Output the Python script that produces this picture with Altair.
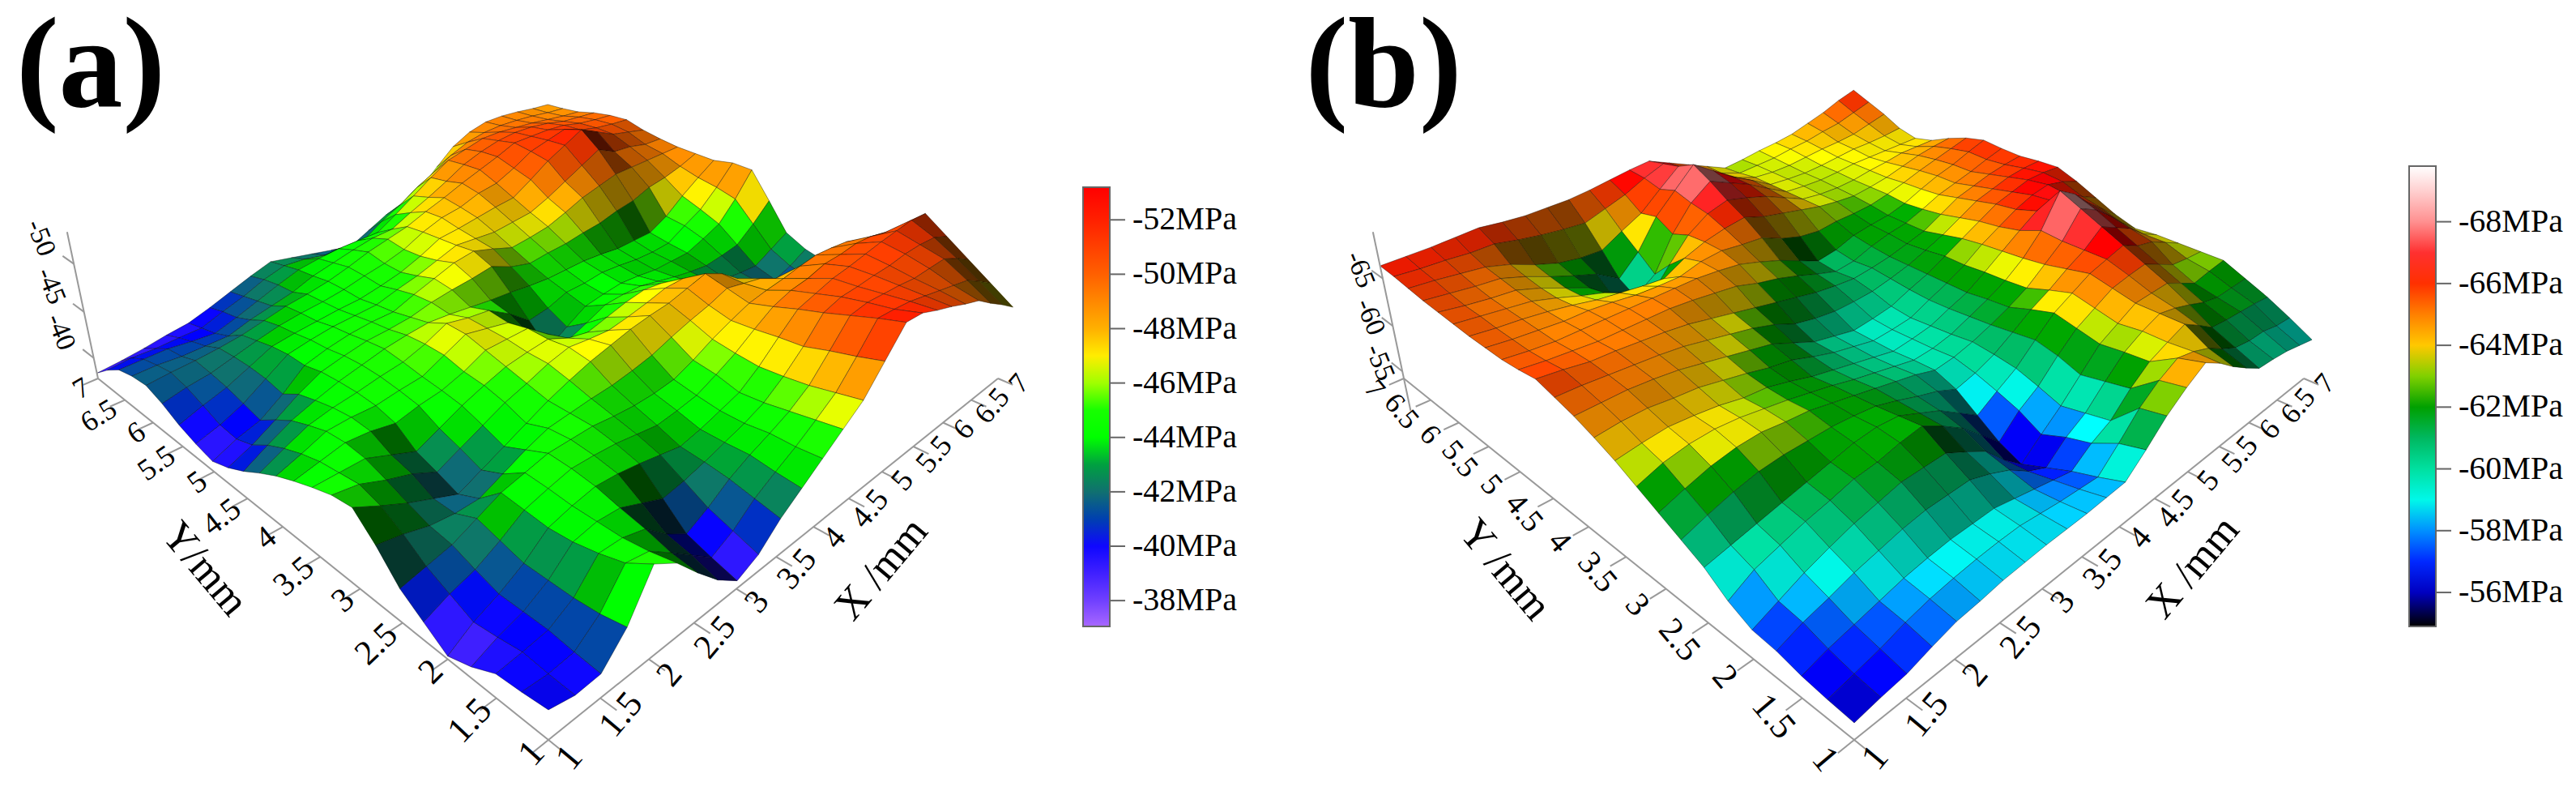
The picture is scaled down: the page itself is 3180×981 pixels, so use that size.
import altair as alt

# Stress magnitude (MPa): rows Y = 1..7, columns X = 1..7, step 0.25
Z_A = [
[40.5,39.9,40,42.5,46.5,45,42.5,40.2,38.5,39.5,41.5,43,44.5,46,47.5,50,52.5,52.3,51.5,50.8,50,49.3,48,46.8,45.5],
[40.2,40,40.2,42,45,44.5,42.8,41,39.2,40.3,42,43.2,44.3,45.6,47,49.3,51.8,51.6,51.3,50.8,50.3,49.8,49.3,48.2,47],
[40,40.2,40.5,41.8,44.3,44.2,43.5,41.5,40,41.1,42.5,43.5,44.3,45.2,46.5,48.7,51,51.2,51,50.8,50.5,50.5,50.5,49.6,48.5],
[38.8,39.8,40.5,41.8,43.8,44.2,44,43,42,42.3,42.8,43.4,44,44.8,46.2,48,50.2,50.7,50.7,50.8,50.8,51,51,50.8,50],
[38,39.5,40.5,41.8,43.6,44.2,44.6,44.4,44,43.5,43,43.4,44,44.6,46,47.8,49.5,50,50.5,50.7,51,51.3,51.5,51.7,51.5],
[39.5,40.5,41.2,42.4,43.8,44.4,44.9,44.8,44.6,44.2,43.8,44,44.3,45.2,46.2,47.5,48.7,49.3,49.5,50,50,50.2,50,49.5,49],
[41,41.5,42,43,44,44.5,45,45,45,44.7,44.5,44.5,44.7,45.5,46.5,47.3,48,48.3,48.5,48.8,49,48.8,48.5,47.8,47],
[43.5,43,42.3,42,42,43,44,44.8,45,45.2,45.3,45.6,46,46.7,47.3,47.8,48.5,48,47.5,46.5,46,45.5,44.8,44.5,44.5],
[45.5,44.2,43,42,41,42,43,44,45,45.8,46.5,47,47.5,47.8,48,48.5,49,48,46.5,44.8,43,42,41,41.5,42.5],
[45.2,44.8,43.8,43,41.8,42.8,43.8,44.8,45.5,46.3,46.8,46.5,46.3,46.6,47,47.5,47.5,46.5,45.2,44,42.8,42,41.4,42,43],
[44.5,44.5,44.5,43.5,42.5,43.5,44.5,45.3,46,46.3,46.5,45.5,45,45.5,46,46.3,46,45,44,43.2,42.5,42.2,42,43,44],
[43.7,44.2,44.7,44.5,44,44.5,44.8,45.5,46.5,46.5,46.5,44.8,43,43.8,44.7,44.8,44.7,44.2,43.7,43.3,43,43.2,43.5,45,46.8],
[42.8,43.6,44.5,44.6,44.5,44.8,45,46,47,46.5,46,43.8,41,42.3,43.5,43.8,44,43.8,43.5,43.5,43.5,44.2,45,47,49.5],
[41.7,42.8,43.8,44.3,44.6,45,45.3,46,47,46.5,46.2,44.8,43,43.3,44,44,44.2,44,43.7,43.6,43.7,44.8,45.8,47.5,49.5],
[40.5,41.8,43,43.8,44.5,45,45.5,45.8,46,45.8,45.5,45.2,45,44.7,44.5,44.5,44.5,44.3,44,44,44,45,46.5,47.8,49],
[39.5,40.5,41.8,43.2,44.3,44.8,45.2,45.3,45.5,46,46.3,46.5,46.8,45.8,45.2,45.4,45.5,45.8,46,46.5,46.8,47.5,47.8,48.3,49],
[38.8,39.8,40.5,42,43.8,44.4,44.8,45,45,45.8,46.5,47.2,47.5,46.8,46,46.2,46.5,47.2,48,48.5,49,49,49,49,49],
[39.3,40,41,42.4,43.8,44.2,44.5,44.6,44.7,45.3,45.8,46.5,47.2,47,46.8,47,47.2,48,49,50,51,50,49.8,49.3,49.2],
[40,40.8,41.5,42.5,43.5,43.8,44,44.2,44.3,44.7,45.2,46,47,47.2,47.5,47.8,48,49.2,50.5,51.5,52.5,51.5,50.5,50,49.5],
[41,41.5,41.8,42.4,43,43.5,43.8,44,44.3,44.8,45.2,45.8,46.8,47.5,47.8,48.5,48.8,49.7,50.8,51.3,51.8,51,50.5,50.2,50],
[41.7,41.9,42,42.2,42.5,43,43.5,43.8,44.2,44.8,45.5,46,46.5,47.3,48,48.8,49.5,50.2,51,51,51,50.8,50.3,50,49.8],
[41.5,41.5,41.3,41.3,41.3,42,42.5,43,43.8,44.3,44.8,45.2,45.3,46.3,47.2,48.2,49.3,50,50.5,50.7,50.6,50.3,49.8,49.6,49.4],
[41,41,41,40.7,40.5,41.2,42,42.8,43.5,43.8,44,44,44,45.2,46.5,47.8,49,49.5,50,50,49.8,49.6,49.3,49,48.8],
[39.8,40,39.9,40,40,40.8,41.5,42.4,43,42.8,42.3,42.2,42.2,43.5,44.5,45.8,46.8,48,48.8,49.2,49.3,49.2,49,48.7,48.5],
[38.3,38.5,38.8,39.2,39.5,40.2,41,41.8,42.5,42,41.5,41,40.5,41.5,42.5,43.2,44,45.8,47.5,48.5,49,49,48.8,48.5,48.3],
]
Z_B = [
[55.8,56.2,56.5,57.2,57.8,58,58.3,58.4,58.5,58.5,58.5,58.6,58.7,60.5,62.5,64,65.2,64,62.5,61.2,60,59.8,59.5,59,58.5],
[56,56.5,57,57.7,58.2,58.5,58.7,58.8,58.8,58.5,58.2,58,57.8,59.8,62,63.5,64.5,64,63.2,62,61,60.6,60.5,60,59.8],
[56.3,57,57.5,58,58.5,58.8,59,59,59,58.5,58,57.5,57,58.5,59.5,61.5,63,63.8,64.5,63.3,62,61.7,61.5,61.3,61],
[56.8,57.7,58.3,59,59.5,60,60.3,60.3,60.3,59.5,58.5,57,56,57.8,59,61,62.8,63.8,64.5,64,63.3,62.5,62,62,62],
[57,58,59,59.8,60.5,61,61.5,61.5,61.5,60.3,59,56.8,55,56.8,58.5,60.5,62.5,63.5,64.5,64.5,64.5,63.5,62.5,62.8,63],
[58,59.3,60,60.7,61.2,61.8,62,62.5,62.8,61.5,60,58,56,58,59.3,61.3,63,64,65,65.3,65.5,64.5,63.5,63.2,63],
[59.5,60,60.5,61,61.5,62,62.5,62.7,62.5,61.5,60.5,59,57.5,58.8,60,61.8,63.5,64.5,65.5,66,66.5,65.5,65,64,63],
[60.5,61.3,62,62.5,62.7,62.7,62.7,62.5,62.2,61.5,60.7,60,59,59.5,60.3,61.5,62.8,63.8,65,66,67.5,66.5,65.5,64,63],
[61.5,62.3,63,63.4,63.5,63.2,63,62.5,62,61.5,61,60.5,59.8,60,60.5,61.2,62,63,64.5,66,68.5,67.5,66,64.3,62.8],
[62.5,63.3,63.7,63.8,63.6,63.2,62.8,62.3,61.8,61.2,60.7,60.2,59.7,59.8,60.2,61,61.8,62.8,64.2,66.2,69.5,68.3,66.5,65,63.5],
[63.5,63.8,64,63.8,63.5,63,62.8,62.2,61.5,61,60.5,60,59.5,59.7,60,60.8,61.5,62.7,64,65.3,66.5,66.7,66.5,65.5,64.5],
[64.3,64.5,64.5,64.2,64,63.5,63,62.4,62,61.2,60.5,60,59.5,59.6,59.8,60.7,61.5,62.5,63.8,64.8,65.8,66.5,66.8,66.3,65.5],
[65,65,65,64.8,64.5,64,63.5,63,62.5,61.5,60.5,60,59.5,59.7,60,60.8,61.5,62.5,63.5,64.5,65.5,66,66.5,66.5,66.3],
[65.5,65.4,65.2,65,64.8,64.5,64,63.5,63,62.3,61.3,60.8,60.5,60.5,60.6,61,61.5,62.2,63,64,65,65.5,66,66.2,66.2],
[66,65.7,65.3,65.2,65,64.8,64.5,64,63.5,63,62.5,62,61.5,61.2,61,61.2,61.5,62,62.5,63.5,64.5,65,65.5,65.8,66],
[65.7,65.4,65.2,65,65,65,65,64.8,64.5,64.2,63.5,63,62.3,61.5,60.8,61,61.7,62.2,62.5,63.2,64,64.5,65,65.6,66.1],
[65.5,65.2,65,65,65,65,65,65,65,64.8,64.5,63.8,63,62,61,61.3,62,62.3,62.5,63,63.8,64.5,65,65.7,66.3],
[65.5,65.2,65,64.8,64.8,64.6,64.3,64.2,64.2,64.8,65,64.7,64.5,63.5,62.8,62.5,62.7,62.7,62.8,63.2,63.7,64.3,64.8,65.3,65.8],
[65.5,65.2,65,64.7,64.3,63.8,63.5,63.2,63,64.2,65,65.5,65.8,65,64.5,64,63.5,63.2,63,63.2,63.5,64,64.5,64.8,65],
[65.6,65.3,65,64.7,64,63.2,62.5,61.5,60,62.5,64.8,66.2,66.8,66.2,65.5,64.5,63.5,63.2,63.1,63.2,63.5,63.7,64,64,64],
[65.7,65.3,65,64.8,64,63,62,60,59,60.5,64,66.5,68,67,66,64.7,63.5,63.3,63.2,63.3,63.5,63.5,63.5,63.5,63.5],
[65.8,65.5,65.2,65,64.2,63.2,62.3,61.5,60,62,65,67,69,67.5,66,64.8,63.5,63.3,63.2,63.3,63.5,63.7,63.7,63.8,64],
[66,65.8,65.5,65.2,64.5,63.5,62.7,62.3,62.2,63.4,64.5,66.3,68,66.7,65.5,64.3,63.5,63.3,63.3,63.5,63.7,63.8,64,64.5,65],
[66.2,66,65.9,65.7,65.7,65.2,64.8,64.5,64.3,65,65.7,66.7,67.5,66.2,65,64,63.2,63.3,63.4,63.7,63.9,64.3,64.6,65.2,65.8],
[66.3,66.3,66.3,66.4,66.5,66.2,66,66,66,66.2,66.5,66.8,67,66,65,64,63,63.2,63.5,63.7,64,64.6,65.2,66,66.6],
]
AXIS_TICKS = [1, 1.5, 2, 2.5, 3, 3.5, 4, 4.5, 5, 5.5, 6, 6.5, 7]
Z_TICKS_A = [40, 45, 50]
Z_TICKS_B = [55, 60, 65]
BAR_TICKS_A = [38, 40, 42, 44, 46, 48, 50, 52]
BAR_TICKS_B = [56, 58, 60, 62, 64, 66, 68]
STOPS_A = [37.05, 38, 39, 40.3, 41, 42, 43, 43.3, 44, 45.4, 46, 46.7, 48, 50, 52, 53.2]
COLORS_A = ["#a868ff", "#7040ff", "#4020ff", "#0000ff", "#0040b0", "#107070", "#00a040", "#00c000", "#00ff00", "#20ff00", "#a0ff00", "#ffff00", "#ffb000", "#ff6000", "#ff2000", "#ff0000"]
STOPS_B = [54.9, 56, 56.5, 57.5, 58, 58.7, 60, 61, 62, 62.8, 63, 63.5, 64, 65, 66, 66.5, 67.5, 68, 69, 69.3, 69.8]
COLORS_B = ["#000000", "#0000c0", "#0000ff", "#0050ff", "#0090ff", "#00ffff", "#00e0a0", "#00b860", "#00a000", "#00b000", "#80d000", "#ffff00", "#ffc800", "#ff8000", "#ff3000", "#ff0000", "#ff6060", "#ff9090", "#ffd0d0", "#ffffff", "#ffffff"]

FONT = "Liberation Serif"
B_PERSP = 0.437
E_PERSP = -0.00596
VP_Y = 3097.0
CX_REF, CX_A, CX_B = 677.0, 677.0, 2289.0
P0_Y, A_X, B_X, AB_Y = 913.0, 1093.4, -503.1, -241.9


def project(u, v, h, cx):
    w = 1 + B_PERSP * (u + v) + E_PERSP * h
    x = (CX_REF + u * A_X + v * B_X + h * E_PERSP * CX_REF) / w + (cx - CX_REF)
    y = (P0_Y + (u + v) * AB_Y + h * E_PERSP * VP_Y) / w
    return [round(x, 2), round(y, 2)]


def ground_w(u, v):
    return 1 + B_PERSP * (u + v)


def surface(Z, cx, zbase):
    n = len(Z) - 1
    rows = []
    for j in range(n):
        for i in range(n):
            c = [(i, j), (i + 1, j), (i + 1, j + 1), (i, j + 1), (i, j)]
            ring = [project(a / n, b / n, Z[b][a] - zbase, cx) for a, b in c]
            zs = [Z[j][i], Z[j][i + 1], Z[j + 1][i + 1], Z[j + 1][i]]
            zx = (zs[1] + zs[2] - zs[0] - zs[3]) / 2 * 4
            zy = (zs[2] + zs[3] - zs[0] - zs[1]) / 2 * 4
            shade = max(0.0, min(0.75, (zy - zx) * 0.07))
            rows.append((i + j, ring, sum(zs) / 4, shade))
    rows.sort(key=lambda r: -r[0])
    feats = []
    for _, ring, z, shade in rows:
        geom = {"type": "Polygon", "coordinates": [ring]}
        feats.append({"type": "Feature", "geometry": geom, "properties": {"z": z, "o": 0, "a": 1, "w": 0}})
        feats.append({"type": "Feature", "geometry": geom, "properties": {"z": z, "o": 1, "a": shade, "w": 0.7}})
    return feats


def line(*pts):
    return {"type": "Feature", "geometry": {"type": "LineString", "coordinates": [list(p) for p in pts]}, "properties": {}}


def axes(cx, zbase, zticks, ztop, zbottom):
    f = [line(project(0, 0, 0, cx), project(1, 0, 0, cx)),
         line(project(0, 0, 0, cx), project(0, 1, 0, cx)),
         line(project(0, 1, zbottom, cx), project(0, 1, ztop, cx))]
    for t in AXIS_TICKS:
        p = (t - 1) / 6
        f.append(line(project(p, 0, 0, cx), project(p, -0.025, 0, cx)))
        f.append(line(project(0, p, 0, cx), project(-0.025, p, 0, cx)))
    for t in zticks:
        f.append(line(project(0, 1, t - zbase, cx), project(0, 1.035, t - zbase, cx)))
    return f


def axis_text(cx, zbase, zticks, y_angle, y_center, zdx, zdy):
    rows = []
    for t in AXIS_TICKS:
        p = (t - 1) / 6
        w = ground_w(p, 0)
        lab = f"{t:g}"
        size = 46 / w ** 0.75
        px, py = project(p, 0, 0, cx)
        rows.append({"x": px + 26, "y": py + 22 - 16 * p, "t": lab, "a": 310, "s": size, "al": "center"})
        px, py = project(0, p, 0, cx)
        if y_center:
            rows.append({"x": px - 36, "y": py + 24 - 11 * p, "t": lab, "a": y_angle, "s": size, "al": "center"})
        else:
            rows.append({"x": px - 13, "y": py + 8, "t": lab, "a": 312 + 18 * p, "s": size, "al": "right"})
    for t in zticks:
        px, py = project(0, 1, t - zbase, cx)
        rows.append({"x": px + zdx, "y": py + zdy, "t": f"-{t}", "a": 68, "s": 34, "al": "center"})
    return rows


def bar_ticks(ticks, lo, hi, top, length, x0, x1):
    return [line((x0, top + length * (hi - t) / (hi - lo)), (x1, top + length * (hi - t) / (hi - lo))) for t in ticks]


PROJ = dict(type="identity", scale=1, translate=[-8, -8])


def surface_layer(feats, stops, colors, values, lx, ly, length, thick):
    legend = alt.Legend(type="gradient", title=None, orient="none", legendX=lx - 8, legendY=ly - 8,
                        gradientLength=length, gradientThickness=thick, gradientStrokeColor="#666",
                        gradientStrokeWidth=2, values=values, labelOverlap=False,
                        labelExpr="'-' + datum.value + 'MPa'", labelFont=FONT, labelFontSize=40,
                        labelColor="#000", labelOffset=28, labelPadding=0)
    color = alt.condition("datum.properties.o == 1", alt.value("#000"),
                          alt.Color("properties.z:Q", legend=legend,
                                    scale=alt.Scale(domain=stops, range=colors, interpolate="rgb")))
    return alt.Chart(alt.Data(values=feats)).mark_geoshape(stroke="#000", strokeOpacity=0.55).encode(
        color=color,
        fillOpacity=alt.FillOpacity("properties.a:Q", scale=None, legend=None),
        strokeWidth=alt.StrokeWidth("properties.w:Q", scale=None, legend=None),
    ).project(**PROJ)


def lines_layer(feats, color, width):
    return alt.Chart(alt.Data(values=feats)).mark_geoshape(filled=False, stroke=color, strokeWidth=width).project(**PROJ)


def text_layer(rows, **mark):
    return alt.Chart(alt.Data(values=rows)).mark_text(font=FONT, color="#000", baseline="middle", **mark).encode(
        longitude="x:Q", latitude="y:Q", text="t:N",
        angle=alt.Angle("a:Q", scale=None), size=alt.Size("s:Q", scale=None, legend=None),
    ).project(**PROJ)


def aligned_text(rows):
    return [text_layer([r for r in rows if r["al"] == al], align=al) for al in ("center", "right")
            if any(r["al"] == al for r in rows)]


ZBASE_A, ZBASE_B = 37.7, 54.2
surf_a = surface_layer(surface(Z_A, CX_A, ZBASE_A), STOPS_A, COLORS_A, BAR_TICKS_A, 1337, 231, 542, 33)
surf_b = surface_layer(surface(Z_B, CX_B, ZBASE_B), STOPS_B, COLORS_B, BAR_TICKS_B, 2974, 205, 568, 33)

ax_lines = lines_layer(axes(CX_A, ZBASE_A, Z_TICKS_A, 15.5, 0) + axes(CX_B, ZBASE_B, Z_TICKS_B, 15.5, -3.7), "#999", 2)
bar_lines = lines_layer(bar_ticks(BAR_TICKS_A, STOPS_A[0], STOPS_A[-1], 231, 542, 1370, 1389)
                        + bar_ticks(BAR_TICKS_B, STOPS_B[0], STOPS_B[-1], 205, 568, 3007, 3026), "#666", 2)

tick_rows = (axis_text(CX_A, ZBASE_A, Z_TICKS_A, 50, False, -41, -32)
             + axis_text(CX_B, ZBASE_B, Z_TICKS_B, 50, True, -28, -11))
title_rows = [
    {"x": 253, "y": 702, "t": "Y/mm", "a": 50, "s": 52, "al": "center"},
    {"x": 1088, "y": 702, "t": "X /mm", "a": 310, "s": 52, "al": "center"},
    {"x": 1858, "y": 703, "t": "Y /mm", "a": 50, "s": 52, "al": "center"},
    {"x": 2707, "y": 700, "t": "X /mm", "a": 310, "s": 52, "al": "center"},
]
panel_rows = [
    {"x": 112, "y": 84, "t": "(a)", "a": 0, "s": 158, "al": "center"},
    {"x": 1708, "y": 84, "t": "(b)", "a": 0, "s": 158, "al": "center"},
]

chart = alt.layer(
    surf_a, surf_b, ax_lines, bar_lines,
    *aligned_text(tick_rows + title_rows),
    text_layer(panel_rows, align="center", fontWeight="bold"),
).resolve_scale(color="independent").properties(
    width=3164, height=965, padding=0,
    autosize=alt.AutoSizeParams(type="none"),
).configure_view(stroke=None)

chart.save("out.html", embed_options={"renderer": "svg", "actions": False})
